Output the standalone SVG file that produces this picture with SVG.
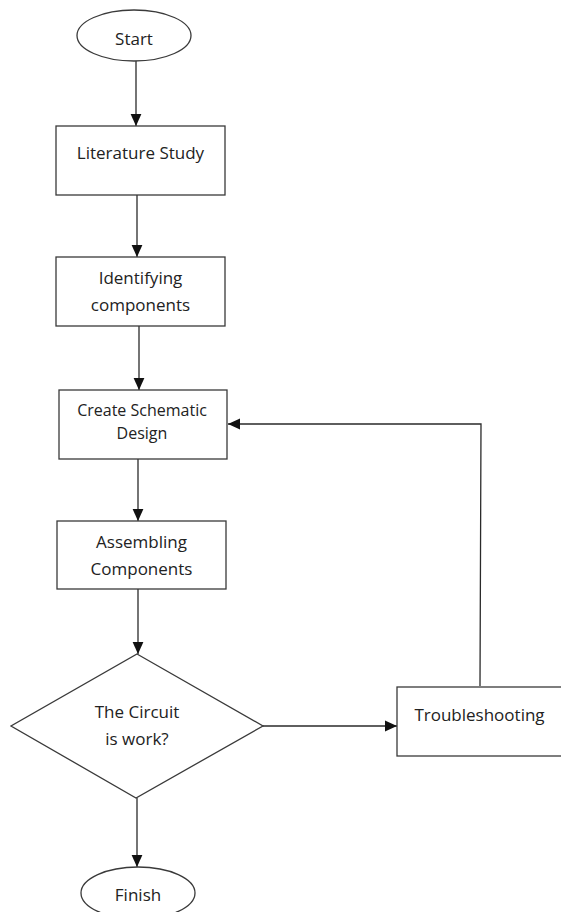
<svg xmlns="http://www.w3.org/2000/svg" width="561" height="912" viewBox="0 0 561 912">
<style>
.shape{fill:#fff;stroke:#3a3a3a;stroke-width:1.3}
.conn{fill:none;stroke:#2a2a2a;stroke-width:1.3}
.t{font-family:"Open Sans","Liberation Sans",sans-serif;font-size:17px;fill:#222;text-anchor:middle}
.s{font-size:16px}
</style>
<defs>
<marker id="arr" markerUnits="userSpaceOnUse" markerWidth="12" markerHeight="12" viewBox="0 0 10 10" refX="10" refY="5" orient="auto">
<path d="M0,0.5 L10,5 L0,9.5 Z" fill="#111"/>
</marker>
</defs>
<rect width="561" height="912" fill="#fff"/>
<g id="connectors">
<line class="conn" x1="136" y1="61" x2="136" y2="126" marker-end="url(#arr)"/>
<line class="conn" x1="137" y1="195" x2="137" y2="257" marker-end="url(#arr)"/>
<line class="conn" x1="139" y1="326" x2="139" y2="390" marker-end="url(#arr)"/>
<line class="conn" x1="138" y1="459" x2="138" y2="521" marker-end="url(#arr)"/>
<line class="conn" x1="138" y1="589" x2="138" y2="654" marker-end="url(#arr)"/>
<line class="conn" x1="137" y1="798" x2="137" y2="867" marker-end="url(#arr)"/>
<line class="conn" x1="263" y1="726" x2="397" y2="726" marker-end="url(#arr)"/>
<polyline class="conn" points="480,686 481,424 228,424" marker-end="url(#arr)"/>
</g>
<g id="start">
<ellipse class="shape" cx="134" cy="35.5" rx="57" ry="25.5"/>
<text class="t" x="134" y="45">Start</text>
</g>
<g id="literature">
<rect class="shape" x="56" y="126" width="169" height="69"/>
<text class="t" x="140.5" y="159">Literature Study</text>
</g>
<g id="identifying">
<rect class="shape" x="56" y="257" width="169" height="69"/>
<text class="t" x="140.5" y="284">Identifying</text>
<text class="t" x="140.5" y="311">components</text>
</g>
<g id="schematic">
<rect class="shape" x="59" y="390" width="168" height="69"/>
<text class="t s" x="142" y="416">Create Schematic</text>
<text class="t s" x="142" y="439">Design</text>
</g>
<g id="assembling">
<rect class="shape" x="57" y="521" width="169" height="68"/>
<text class="t" x="141.5" y="548">Assembling</text>
<text class="t" x="141.5" y="575">Components</text>
</g>
<g id="decision">
<polygon class="shape" points="137,654 263,726 136,798 11,726"/>
<text class="t" x="137" y="718">The Circuit</text>
<text class="t" x="137" y="745">is work?</text>
</g>
<g id="troubleshooting">
<rect class="shape" x="397" y="687" width="170" height="69"/>
<text class="t" x="479.5" y="721">Troubleshooting</text>
</g>
<g id="finish">
<ellipse class="shape" cx="138" cy="893" rx="57" ry="26"/>
<text class="t" x="138" y="901">Finish</text>
</g>
</svg>
